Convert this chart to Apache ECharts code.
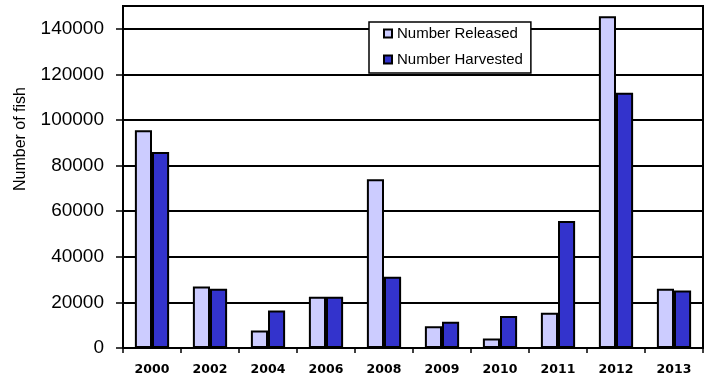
<!DOCTYPE html>
<html>
<head>
<meta charset="utf-8">
<script src="https://cdn.jsdelivr.net/npm/echarts@6/dist/echarts.min.js"></script>
<style>
  html, body { margin: 0; padding: 0; background: #fff; }
  #chart { width: 705px; height: 379px; }
</style>
</head>
<body>
<div id="chart"></div>
<script>
// Fish released vs harvested by year
const years = ['2000', '2002', '2004', '2006', '2008', '2009', '2010', '2011', '2012', '2013'];
const released = [95500, 27000, 7700, 22500, 74000, 9500, 4200, 15500, 145500, 26000];
const harvested = [86000, 26000, 16500, 22500, 31200, 11500, 14000, 55700, 112000, 25200];
const seriesNames = ['Number Released', 'Number Harvested'];
const yTicks = [0, 20000, 40000, 60000, 80000, 100000, 120000, 140000];
const yTitle = 'Number of fish';

const chart = echarts.init(document.getElementById('chart'), null, { renderer: 'canvas' });

const barBorder = { borderColor: '#000', borderWidth: 2 };

chart.setOption({
  animation: false,
  backgroundColor: '#fff',
  grid: {
    left: 123, right: 2, top: 6, bottom: 31,
    show: true, borderColor: '#000', borderWidth: 2, backgroundColor: 'transparent'
  },
  legend: {
    orient: 'vertical',
    left: 369, top: 22,
    padding: [4, 8, 6, 14],
    itemGap: 11,
    itemWidth: 8, itemHeight: 8,
    icon: 'rect',
    backgroundColor: '#fff',
    borderColor: '#000', borderWidth: 1.5,
    textStyle: { fontFamily: 'Liberation Sans', fontSize: 15, color: '#000' },
    data: seriesNames
  },
  xAxis: {
    type: 'category',
    data: years,
    axisLine: { lineStyle: { color: '#000', width: 2 } },
    axisTick: { show: true, length: 5, lineStyle: { color: '#000', width: 1.5 } },
    axisLabel: {
      margin: 15,
      fontFamily: 'DejaVu Sans', fontWeight: 'bold', fontSize: 12.5, color: '#000'
    },
    splitLine: { show: false }
  },
  yAxis: {
    type: 'value',
    min: 0, max: 150000, interval: 20000,
    axisLine: { show: true, lineStyle: { color: '#000', width: 2 } },
    axisTick: {
      show: true, length: 7, customValues: yTicks,
      lineStyle: { color: '#000', width: 1.5 }
    },
    axisLabel: {
      margin: 19, customValues: yTicks,
      formatter: function (v) { return String(v); },
      fontFamily: 'Liberation Sans', fontSize: 19, color: '#000'
    },
    splitLine: { show: true, lineStyle: { color: '#000', width: 1.8 } }
  },
  graphic: [{
    type: 'text',
    x: 21, y: 139,
    rotation: Math.PI / 2,
    style: {
      text: yTitle,
      fontFamily: 'Liberation Sans', fontSize: 16, fill: '#000',
      align: 'center', verticalAlign: 'middle'
    }
  }],
  series: [
    {
      name: seriesNames[0], type: 'bar', data: released,
      barGap: '0%', barCategoryGap: '41%',
      itemStyle: Object.assign({ color: '#CCCCFF' }, barBorder)
    },
    {
      name: seriesNames[1], type: 'bar', data: harvested,
      barGap: '0%', barCategoryGap: '41%',
      itemStyle: Object.assign({ color: '#3333CC' }, barBorder)
    }
  ]
});
</script>
</body>
</html>
